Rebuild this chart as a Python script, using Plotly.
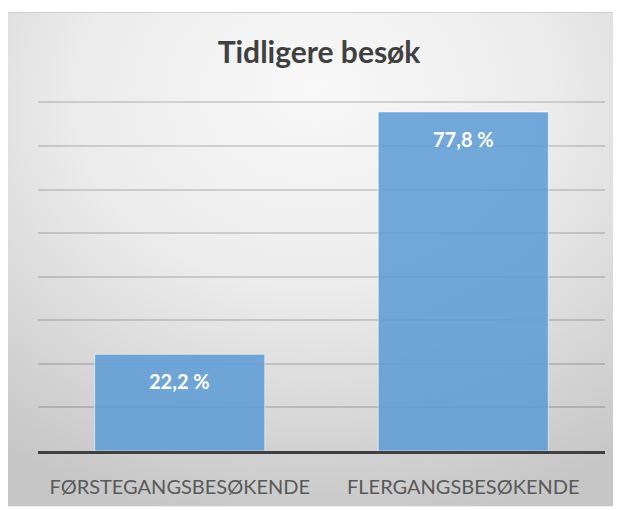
import base64
import plotly.graph_objects as go

categories = ["FØRSTEGANGSBESØKENDE", "FLERGANGSBESØKENDE"]
values = [0.222, 0.778]
labels = ["22,2 %", "77,8 %"]
title_text = "Tidligere besøk"

# page body has an 8px margin, so the figure is sized to the visible window
W, H = 613, 502
ml, mr, mt, mb = 30, 16, 90, 55
pw, ph = W - ml - mr, H - mt - mb

def px_x(px):
    return (px - ml) / pw

def px_y(py):
    return (H - mb - py) / ph

svg = """<svg xmlns='http://www.w3.org/2000/svg' width='614' height='499' viewBox='0 0 614 499'>
<defs><radialGradient id='g' cx='50%' cy='20%' r='85%' fx='50%' fy='15%'>
<stop offset='0' stop-color='#f8f8f8'/><stop offset='0.45' stop-color='#ececec'/><stop offset='1' stop-color='#c6c6c6'/>
</radialGradient></defs>
<rect x='0' y='0' width='614' height='499' fill='url(#g)' stroke='#c8c8c8' stroke-width='1.5'/>
</svg>"""
src = "data:image/svg+xml;base64," + base64.b64encode(svg.encode()).decode()

fig = go.Figure()
fig.add_trace(go.Bar(
    x=categories, y=values, width=0.6,
    marker=dict(color="rgba(91,155,213,0.85)", line=dict(color="rgba(255,255,255,0.55)", width=1)),
    hoverinfo="skip", showlegend=False,
))

for c, v, t in zip(categories, values, labels):
    fig.add_annotation(x=c, y=v, text=t, showarrow=False, yshift=-27, yanchor="middle",
                       font=dict(family="Lato", size=20, color="white", weight="bold"))

fig.add_layout_image(dict(source=src, xref="paper", yref="paper",
                          x=px_x(-1), y=px_y(3), sizex=px_x(614) - px_x(-1), sizey=px_y(3) - px_y(503),
                          xanchor="left", yanchor="top", sizing="stretch", layer="below"))

fig.update_layout(
    width=W, height=H,
    margin=dict(l=ml, r=mr, t=mt, b=mb),
    paper_bgcolor="white", plot_bgcolor="rgba(0,0,0,0)",
    title=dict(text="<b>" + title_text + "</b>", x=311 / W, xanchor="center", y=1 - 44 / H, yanchor="middle",
               xref="container", yref="container",
               font=dict(family="Lato", size=30, color="#404040")),
    bargap=0.4,
    xaxis=dict(showline=True, linecolor="#404040", linewidth=3, ticks="", showgrid=False,
               tickfont=dict(family="Lato", size=20, color="#595959"), ticklabelstandoff=16),
    yaxis=dict(range=[0, 0.81], tickvals=[0.1, 0.2, 0.3, 0.4, 0.5, 0.6, 0.7, 0.8], showticklabels=False,
               showgrid=True, gridcolor="rgba(0,0,0,0.14)", gridwidth=1.5, zeroline=False, fixedrange=True),
)

fig.write_html("out.html")
